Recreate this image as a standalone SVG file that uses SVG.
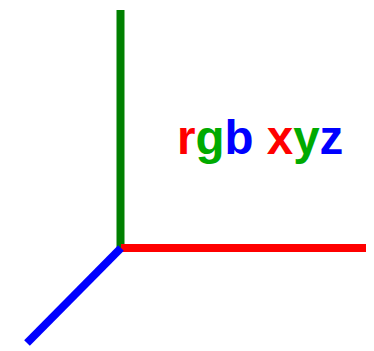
<svg xmlns="http://www.w3.org/2000/svg" width="374" height="351" viewBox="0 0 374 351">
<style>
.ax{stroke-width:8;fill:none}
.t{font-family:"Liberation Sans",Arial,sans-serif;font-weight:bold;font-size:47.5px}
</style>
<rect width="374" height="351" fill="#fff"/>
<g id="connectors">
<line id="y-axis" class="ax" x1="120.5" y1="10" x2="120.5" y2="248" stroke="#008000"/>
<line id="x-axis" class="ax" x1="121" y1="248" x2="366" y2="248" stroke="#ff0000"/>
<line id="z-axis" class="ax" x1="121" y1="248" x2="27" y2="343" stroke="#0000ff"/>
</g>
<g id="label">
<text class="t" x="177" y="154"><tspan fill="#ff0000">r</tspan><tspan fill="#00aa00">g</tspan><tspan fill="#0000ff">b</tspan> <tspan fill="#ff0000">x</tspan><tspan fill="#00aa00">y</tspan><tspan fill="#0000ff">z</tspan></text>
</g>
</svg>
